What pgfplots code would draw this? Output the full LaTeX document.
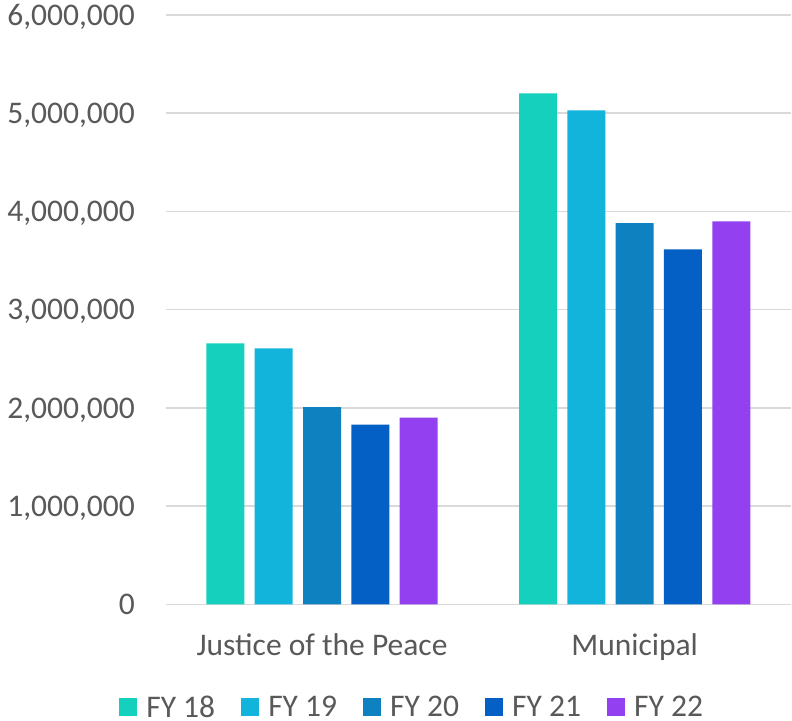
\documentclass[border=0pt]{standalone}
\usepackage{pgfplots}
\pgfplotsset{compat=1.18}
\usepackage{fontspec}
\setmainfont{Carlito}
\definecolor{txt}{HTML}{595959}
\definecolor{gridc}{HTML}{D9D9D9}
\definecolor{cA}{HTML}{16D0BE}
\definecolor{cB}{HTML}{12B4DC}
\definecolor{cC}{HTML}{0E82C0}
\definecolor{cD}{HTML}{0460C4}
\definecolor{cE}{HTML}{9240F0}
\begin{document}
\begin{tikzpicture}
\path[use as bounding box] (0,0) rectangle (792bp,721bp);
\begin{axis}[
  at={(165.7bp,116.7bp)}, anchor=south west,
  scale only axis, width=625.3bp, height=589.3bp,
  ymin=0, ymax=6000000,
  ytick={0,1000000,2000000,3000000,4000000,5000000,6000000},
  xmin=-0.5, xmax=1.5, xtick={0,1},
  xticklabels={Justice of the Peace, Municipal},
  ybar=10.3bp, bar width=38bp,
  axis line style={draw=none},
  major tick length=0pt,
  ymajorgrids, grid style={color=gridc, line width=1.5bp},
  font=\fontsize{31.5bp}{38bp}\selectfont,
  tick label style={text=txt},
  scaled y ticks=false,
  /pgf/number format/fixed,
  /pgf/number format/precision=0,
  /pgf/number format/1000 sep={,},
  /pgf/number format/assume math mode=true,
  yticklabel style={anchor=east, inner sep=0pt, text depth=0pt, xshift=-30.7bp},
  xticklabel style={anchor=north, inner sep=0pt, yshift=-28.7bp},
  legend columns=5,
  legend cell align=left,
  legend style={draw=none, fill=none, at={(-0.0742,-0.1743)}, anchor=west,
    text=txt, inner sep=0pt, column sep=0pt, nodes={inner sep=0pt},
    /tikz/every odd column/.append style={column sep=9.3bp},
    /tikz/every even column/.append style={column sep=26.3bp}},
  legend image code/.code={\fill[#1] (0bp,-8.7bp) rectangle (17.5bp,8.8bp);},
]
\addplot[fill=cA, draw=none] coordinates {(0,2656000) (1,5202000)};
\addplot[fill=cB, draw=none] coordinates {(0,2605000) (1,5029000)};
\addplot[fill=cC, draw=none] coordinates {(0,2007000) (1,3881000)};
\addplot[fill=cD, draw=none] coordinates {(0,1829000) (1,3613000)};
\addplot[fill=cE, draw=none] coordinates {(0,1900000) (1,3898000)};
\legend{FY 18, FY 19, FY 20, FY 21, FY 22}
\end{axis}
\end{tikzpicture}
\end{document}
